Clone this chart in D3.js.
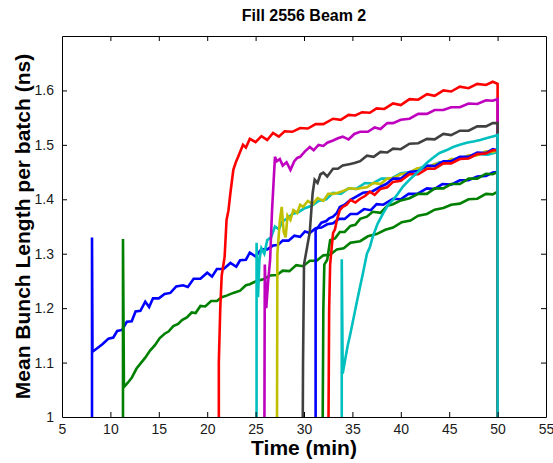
<!DOCTYPE html>
<html>
<head>
<meta charset="utf-8">
<script src="https://cdn.jsdelivr.net/npm/d3@7"></script>
<style>
  body { margin: 0; background: #fff; }
  svg { display: block; font-family: "Liberation Sans", Arial, sans-serif; }
  .tick-label { font-size: 14px; fill: #1a1a1a; }
</style>
</head>
<body>
<svg id="chart" width="553" height="463"></svg>
<script>
// axis ticks
const xTicks = [5, 10, 15, 20, 25, 30, 35, 40, 45, 50, 55];
const yTicks = [1, 1.1, 1.2, 1.3, 1.4, 1.5, 1.6];

// colours in plotting order (matlab default cycle)
const batchColors = ["#0000ff", "#008000", "#ff0000", "#00bfbf", "#bf00bf", "#bfbf00", "#404040",
  "#0000ff", "#008000", "#ff0000", "#00bfbf"];

// [time (min), mean bunch length (ns)]
const batch1 = [[8.1,0.9],[8.1,1.33],[8.15,1.12],[8.6,1.126],[9.2,1.134],[9.8,1.144],[10.3,1.146],[10.7,1.158],[11.2,1.16],[11.7,1.175],[12.2,1.176],[12.6,1.194],[13.1,1.195],[13.6,1.212],[14.0,1.202],[14.4,1.218],[15.0,1.218],[15.6,1.226],[16.2,1.228],[16.8,1.24],[17.5,1.242],[18.0,1.239],[18.6,1.254],[19.3,1.254],[20.0,1.265],[20.5,1.258],[21.0,1.272],[21.7,1.272],[22.4,1.283],[23.0,1.276],[23.4,1.288],[24.0,1.289],[24.4,1.302],[25.0,1.295],[25.6,1.308],[26.2,1.308],[26.8,1.315],[27.3,1.316],[27.8,1.324],[28.4,1.324],[29.0,1.333],[29.6,1.331],[30.1,1.341],[30.6,1.338],[31.2,1.347],[31.8,1.348],[32.4,1.354],[33.0,1.356],[33.6,1.364],[34.2,1.364],[34.8,1.373],[35.5,1.373],[36.2,1.382],[36.9,1.38],[37.5,1.391],[38.2,1.39],[39.2,1.401],[40.0,1.4],[40.8,1.41],[41.7,1.41],[42.7,1.42],[43.5,1.419],[44.3,1.428],[45.2,1.427],[46.1,1.435],[47.0,1.435],[47.9,1.442],[48.8,1.443],[49.5,1.449],[50,1.45],[50,0.9]];
const batch2 = [[11.3,0.9],[11.3,1.327],[11.4,1.055],[11.8,1.063],[12.2,1.072],[12.7,1.089],[13.1,1.098],[13.6,1.109],[14.1,1.122],[14.6,1.132],[15.1,1.145],[15.6,1.153],[16.0,1.157],[16.5,1.167],[17.0,1.171],[17.4,1.178],[17.9,1.183],[18.4,1.192],[18.8,1.191],[19.3,1.204],[19.8,1.203],[20.4,1.213],[21.0,1.213],[21.5,1.22],[22.0,1.223],[22.7,1.228],[23.4,1.232],[24.0,1.242],[24.4,1.244],[25.1,1.25],[25.8,1.253],[26.5,1.26],[27.2,1.261],[27.8,1.269],[28.5,1.268],[29.2,1.279],[29.9,1.277],[30.6,1.287],[31.3,1.287],[32.0,1.297],[32.7,1.298],[33.4,1.308],[34.1,1.31],[34.8,1.32],[35.8,1.323],[36.6,1.332],[37.5,1.336],[38.4,1.344],[39.2,1.348],[40.1,1.358],[41.0,1.361],[41.8,1.37],[42.7,1.373],[43.5,1.381],[44.4,1.384],[45.2,1.39],[46.1,1.392],[47.0,1.4],[47.9,1.401],[48.8,1.41],[49.5,1.409],[50,1.414],[50,0.9]];
const batch3 = [[21.2,0.9],[21.2,1.1],[21.35,1.2],[21.5,1.26],[21.8,1.294],[22.0,1.362],[22.2,1.38],[22.4,1.412],[22.7,1.454],[23.0,1.47],[23.2,1.478],[23.7,1.5],[24.0,1.495],[24.4,1.511],[25.0,1.505],[25.6,1.516],[26.2,1.509],[26.8,1.522],[27.4,1.515],[28.0,1.525],[28.8,1.524],[29.6,1.531],[30.4,1.53],[31.2,1.538],[32.0,1.538],[33.0,1.548],[33.8,1.546],[34.6,1.555],[35.3,1.554],[36.0,1.56],[36.8,1.559],[37.5,1.567],[38.3,1.566],[39.2,1.576],[40.0,1.573],[40.9,1.584],[41.8,1.583],[42.7,1.593],[43.5,1.59],[44.4,1.6],[45.2,1.598],[46.1,1.607],[47.0,1.604],[47.9,1.612],[48.8,1.61],[49.5,1.616],[50,1.612],[50,0.9]];
const batch4 = [[25.1,0.9],[25.1,1.32],[25.25,1.22],[25.4,1.29],[25.6,1.31],[25.9,1.3],[26.2,1.325],[26.6,1.33],[27.0,1.35],[27.4,1.345],[27.8,1.36],[28.3,1.365],[28.8,1.373],[29.4,1.376],[30.0,1.383],[30.8,1.388],[31.5,1.397],[32.3,1.4],[33.0,1.412],[33.8,1.41],[34.6,1.42],[35.4,1.419],[36.3,1.43],[37.1,1.429],[38.0,1.438],[39.0,1.438],[40.0,1.448],[41.0,1.45],[42.0,1.458],[43.0,1.46],[44.0,1.468],[45.0,1.468],[46.0,1.476],[47.0,1.476],[48.0,1.483],[49.0,1.482],[50,1.487],[50,0.9]];
const batch5 = [[25.9,0.9],[25.95,1.28],[26.1,1.2],[26.3,1.25],[26.5,1.289],[26.7,1.38],[27.0,1.478],[27.2,1.47],[27.5,1.474],[27.8,1.462],[28.2,1.468],[28.6,1.454],[29.0,1.47],[29.3,1.476],[29.6,1.478],[30.1,1.488],[30.6,1.496],[31.0,1.49],[31.5,1.5],[32.0,1.498],[32.4,1.504],[33.0,1.508],[33.5,1.512],[34.0,1.515],[34.6,1.51],[35.2,1.52],[35.8,1.524],[36.6,1.524],[37.3,1.532],[37.9,1.529],[38.6,1.54],[39.2,1.54],[40.0,1.546],[40.9,1.548],[41.8,1.557],[42.7,1.557],[43.5,1.564],[44.4,1.564],[45.2,1.569],[46.1,1.569],[47.0,1.576],[47.9,1.575],[48.8,1.582],[49.5,1.581],[50,1.584],[50,0.9]];
const batch6 = [[27.2,0.9],[27.25,1.3],[27.5,1.36],[27.7,1.386],[27.9,1.34],[28.1,1.33],[28.3,1.37],[28.6,1.362],[28.9,1.38],[29.3,1.375],[29.6,1.39],[29.9,1.386],[30.4,1.397],[30.9,1.391],[31.4,1.402],[32.0,1.397],[32.5,1.41],[33.0,1.41],[33.5,1.412],[34.0,1.415],[34.7,1.42],[35.5,1.419],[36.0,1.421],[36.5,1.422],[37.2,1.43],[37.9,1.428],[38.6,1.438],[39.2,1.439],[40.0,1.446],[40.8,1.448],[41.7,1.457],[42.7,1.458],[43.5,1.465],[44.4,1.466],[45.2,1.474],[46.1,1.474],[47.0,1.481],[47.9,1.481],[48.8,1.488],[49.5,1.487],[50,1.49],[50,0.9]];
const batch7 = [[29.85,0.9],[29.9,1.1],[30.0,1.28],[30.3,1.31],[30.6,1.34],[30.8,1.39],[30.9,1.412],[31.1,1.436],[31.4,1.43],[31.7,1.446],[32.0,1.449],[32.4,1.442],[33.0,1.456],[33.5,1.456],[34.0,1.462],[34.8,1.465],[35.3,1.467],[35.8,1.47],[36.5,1.48],[37.2,1.478],[37.9,1.487],[38.6,1.486],[39.2,1.493],[40.0,1.492],[40.9,1.502],[41.8,1.503],[42.7,1.511],[43.5,1.51],[44.4,1.52],[45.2,1.518],[46.1,1.526],[47.0,1.526],[47.9,1.534],[48.8,1.534],[49.5,1.54],[50,1.54],[50,0.9]];
const batch8 = [[31.2,0.9],[31.2,1.344],[31.5,1.35],[31.8,1.357],[32.3,1.36],[32.6,1.365],[33.0,1.368],[33.4,1.375],[33.7,1.386],[34.2,1.39],[34.8,1.399],[35.4,1.405],[36.1,1.412],[37.0,1.414],[37.9,1.423],[38.5,1.428],[39.2,1.438],[40.0,1.438],[40.9,1.45],[41.8,1.452],[42.7,1.462],[43.5,1.461],[44.4,1.47],[45.2,1.47],[46.1,1.478],[47.0,1.478],[47.9,1.486],[48.8,1.485],[49.5,1.492],[50,1.49],[50,0.9]];
const batch9 = [[31.9,0.9],[32.0,1.2],[32.1,1.28],[32.4,1.289],[32.7,1.325],[33.2,1.328],[33.7,1.34],[34.2,1.34],[34.8,1.351],[35.3,1.353],[35.8,1.364],[36.5,1.368],[37.1,1.377],[37.9,1.375],[38.6,1.388],[39.2,1.391],[40.0,1.398],[40.9,1.402],[41.8,1.41],[42.7,1.41],[43.5,1.42],[44.4,1.42],[45.2,1.428],[46.1,1.428],[47.0,1.438],[47.9,1.438],[48.8,1.447],[49.5,1.446],[50,1.45],[50,0.9]];
const batch10 = [[32.5,0.9],[32.6,1.2],[32.7,1.28],[33.0,1.338],[33.2,1.345],[33.4,1.362],[33.7,1.38],[34.0,1.386],[34.4,1.39],[34.8,1.399],[35.3,1.394],[35.8,1.401],[36.3,1.406],[36.8,1.414],[37.3,1.408],[37.9,1.419],[38.6,1.422],[39.2,1.432],[40.0,1.434],[40.9,1.446],[41.8,1.446],[42.7,1.456],[43.5,1.456],[44.4,1.466],[45.2,1.466],[46.1,1.474],[47.0,1.475],[47.9,1.483],[48.8,1.484],[49.5,1.49],[50,1.49],[50,0.9]];
const batch11 = [[33.9,0.9],[33.9,1.29],[34.0,1.08],[34.2,1.1],[34.5,1.13],[34.8,1.154],[35.1,1.18],[35.5,1.215],[35.8,1.24],[36.1,1.265],[36.5,1.3],[36.8,1.312],[37.1,1.331],[37.6,1.355],[38.2,1.375],[38.7,1.39],[39.2,1.399],[39.7,1.41],[40.2,1.423],[40.9,1.436],[41.7,1.449],[42.2,1.458],[42.7,1.467],[43.3,1.476],[44.0,1.485],[44.7,1.49],[45.4,1.496],[46.1,1.5],[46.8,1.504],[47.5,1.506],[48.2,1.509],[49.0,1.513],[49.6,1.516],[50,1.518],[50,0.9]];

const batches = [batch1, batch2, batch3, batch4, batch5, batch6, batch7, batch8, batch9, batch10, batch11];

let svg = d3.select("svg#chart");
let margin = {left: 62, right: 7, top: 36, bottom: 46};
let width = 553 - margin.left - margin.right;
let height = 463 - margin.top - margin.bottom;

let x = d3.scaleLinear().domain([5, 55]).range([0, width]);
let y = d3.scaleLinear().domain([1, 1.7]).range([height, 0]);

let g = svg.append("g").attr("transform", "translate(" + margin.left + "," + margin.top + ")");

g.append("clipPath").attr("id", "plot-clip")
  .append("rect").attr("width", width).attr("height", height);

let line = d3.line().x(d => x(d[0])).y(d => y(d[1]));

g.append("g").attr("clip-path", "url(#plot-clip)")
  .selectAll("path")
  .data(batches)
  .join("path")
  .attr("d", line)
  .attr("fill", "none")
  .attr("stroke", (d, i) => batchColors[i])
  .attr("stroke-width", 2.6)
  .attr("stroke-linejoin", "miter");

// matlab box with inward ticks on all four sides
let tickLen = 5;
let bottomAxis = d3.axisBottom(x).tickValues(xTicks).tickSizeInner(-tickLen).tickSizeOuter(0).tickPadding(7);
let topAxis = d3.axisTop(x).tickValues(xTicks).tickSizeInner(-tickLen).tickSizeOuter(0).tickFormat("");
let leftAxis = d3.axisLeft(y).tickValues(yTicks).tickSizeInner(-tickLen).tickSizeOuter(0).tickPadding(8).tickFormat(d3.format("~g"));
let rightAxis = d3.axisRight(y).tickValues(yTicks).tickSizeInner(-tickLen).tickSizeOuter(0).tickFormat("");

let axes = [
  g.append("g").attr("transform", "translate(0," + height + ")").call(bottomAxis),
  g.append("g").call(topAxis),
  g.append("g").call(leftAxis),
  g.append("g").attr("transform", "translate(" + width + ",0)").call(rightAxis)
];
axes.forEach(a => {
  a.select(".domain").attr("stroke", "#000");
  a.selectAll(".tick line").attr("stroke", "#000");
  a.selectAll(".tick text").attr("class", "tick-label").attr("font-family", null).attr("font-size", null);
});
// hide end ticks that sit on the box corners
axes[0].selectAll(".tick line").filter(d => d == 5 || d == 55).remove();
axes[1].selectAll(".tick line").filter(d => d == 5 || d == 55).remove();
axes[2].selectAll(".tick line").filter(d => d == 1).remove();
axes[3].selectAll(".tick line").filter(d => d == 1).remove();

svg.append("text")
  .attr("x", margin.left + width / 2)
  .attr("y", 21)
  .attr("text-anchor", "middle")
  .style("font-size", "16px")
  .style("font-weight", "bold")
  .text("Fill 2556 Beam 2");

svg.append("text")
  .attr("x", margin.left + width / 2)
  .attr("y", 455)
  .attr("text-anchor", "middle")
  .style("font-size", "21px")
  .style("font-weight", "bold")
  .text("Time (min)");

svg.append("text")
  .attr("transform", "translate(30," + (margin.top + height / 2) + ") rotate(-90)")
  .attr("text-anchor", "middle")
  .style("font-size", "21px")
  .style("font-weight", "bold")
  .text("Mean Bunch Length per batch (ns)");
</script>
</body>
</html>
